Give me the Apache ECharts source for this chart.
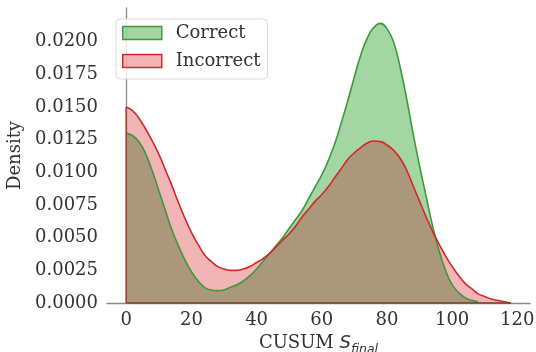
<!DOCTYPE html>
<html>
<head>
<meta charset="utf-8">
<script src="https://cdn.jsdelivr.net/npm/echarts@6/dist/echarts.min.js"></script>
<style>html,body{margin:0;padding:0;background:#fff;}#chart{width:536px;height:352px;}</style>
</head>
<body>
<div id="chart"></div>
<script>
// Grid of x values (CUSUM S_final)
const xs = [0,2,4,6,8,10,12,14,16,18,20,22,24,26,28,30,32,34,36,38,40,42,44,46,48,50,52,54,56,58,60,62,64,66,68,70,72,74,76,78,80,82,84,86,88,90,92,94,96,98,100,102,104,106,108,110,112,114,116,118];
// Density estimates
const correctDensity = [0.0130,0.0128,0.0123,0.0114,0.0101,0.0086,0.0071,0.0056,0.0044,0.0033,0.0024,0.0017,0.0012,0.00099,0.00095,0.0010,0.0012,0.0014,0.0017,0.0021,0.0026,0.0032,0.0038,0.0044,0.0050,0.0057,0.0064,0.0071,0.0080,0.0089,0.0098,0.0109,0.0122,0.0138,0.0155,0.0173,0.0190,0.0203,0.0211,0.0214,0.0210,0.0200,0.0181,0.0157,0.0130,0.0105,0.0082,0.0059,0.0040,0.0025,0.0014,0.0008,0.0004,0.0002,0.0001];
const incorrectDensity = [0.0150,0.0147,0.0141,0.0133,0.0124,0.0114,0.0102,0.0090,0.0077,0.0065,0.0054,0.0045,0.0037,0.0032,0.0028,0.0026,0.0025,0.0025,0.0026,0.0028,0.0031,0.0034,0.0038,0.0043,0.0048,0.0053,0.0059,0.0066,0.0072,0.0078,0.0083,0.0089,0.0096,0.0103,0.0110,0.0115,0.0119,0.01225,0.0124,0.01235,0.0121,0.0117,0.0111,0.0102,0.0090,0.0078,0.0066,0.0055,0.0045,0.0036,0.0028,0.0021,0.0015,0.0011,0.0007,0.0005,0.0003,0.0002,0.0001,0.0000];
const xTicks = [0,20,40,60,80,100,120];
const yTicks = [0,0.0025,0.005,0.0075,0.01,0.0125,0.015,0.0175,0.02];
const seriesNames = ['Correct','Incorrect'];

const greenLine = '#3b9a3b', redLine = '#d62728';
const greenFill = 'rgba(44,160,44,0.43)', redFill = 'rgba(214,39,40,0.34)';
const overlapFill = '#ab977a';

const correctData = correctDensity.map((v,i)=>[xs[i], v]);
const incorrectData = incorrectDensity.map((v,i)=>[xs[i], v]);
const overlapData = incorrectDensity.map((v,i)=>{
  const g = i < correctDensity.length ? correctDensity[i] : 0;
  return [xs[i], Math.min(g, v)];
});

const serif = 'DejaVu Serif';
const SM = 0.5;
const chart = echarts.init(document.getElementById('chart'), null, {renderer:'canvas'});
chart.setOption({
  animation:false,
  backgroundColor:'#fff',
  grid:{left:107, right:6, top:8, bottom:49, containLabel:false, outerBoundsMode:'none'},
  legend:{
    orient:'vertical', left:116, top:19,
    padding:[4,7,8,6],
    itemWidth:39, itemHeight:13, itemGap:8,
    borderColor:'#dcdcdc', borderWidth:1, borderRadius:4,
    backgroundColor:'rgba(255,255,255,0.8)',
    textStyle:{fontFamily:serif, fontSize:18, color:'#333', padding:[0,0,0,9], lineHeight:20},
    data:[
      {name:seriesNames[0], icon:'rect', itemStyle:{color:greenFill, borderColor:greenLine, borderWidth:1.5}},
      {name:seriesNames[1], icon:'rect', itemStyle:{color:redFill, borderColor:redLine, borderWidth:1.5}}
    ]
  },
  xAxis:{
    type:'value', min:-5.9, max:123.9,
    name:'{a|CUSUM }{s|S}{f|final}', nameLocation:'middle', nameGap:23,
    nameTextStyle:{
      rich:{
        a:{fontFamily:serif, fontSize:18, color:'#333', lineHeight:24, verticalAlign:'bottom'},
        s:{fontFamily:'DejaVu Sans', fontStyle:'italic', fontSize:18, color:'#333', lineHeight:24, verticalAlign:'bottom'},
        f:{fontFamily:'DejaVu Sans', fontStyle:'italic', fontSize:12.5, color:'#333', lineHeight:20, verticalAlign:'bottom', padding:[0,0,-4,0]}
      }
    },
    axisLine:{show:true, lineStyle:{color:'#8a8a8a', width:1.3}},
    axisTick:{show:false},
    splitLine:{show:false},
    axisLabel:{customValues:xTicks, fontFamily:serif, fontSize:18, color:'#333', margin:8, formatter:v=>String(v)}
  },
  yAxis:{
    type:'value', min:0, max:0.02258,
    name:'Density', nameLocation:'middle', nameGap:74, nameRotate:90,
    nameTextStyle:{fontFamily:serif, fontSize:18, color:'#333'},
    axisLine:{show:true, lineStyle:{color:'#8a8a8a', width:1.3}},
    axisTick:{show:false},
    splitLine:{show:false},
    axisLabel:{customValues:yTicks, fontFamily:serif, fontSize:18, color:'#333', margin:9, formatter:v=>v.toFixed(4)}
  },
  series:[
    {name:seriesNames[0], type:'line', data:correctData, smooth:SM, symbol:'none', z:1,
     lineStyle:{width:0, color:greenLine}, itemStyle:{color:greenLine}, areaStyle:{color:greenFill, opacity:1}},
    {name:seriesNames[1], type:'line', data:incorrectData, smooth:SM, symbol:'none', z:1,
     lineStyle:{width:0, color:redLine}, itemStyle:{color:redLine}, areaStyle:{color:redFill, opacity:1}},
    {name:'overlap', type:'line', data:overlapData, smooth:SM, symbol:'none', z:2,
     lineStyle:{width:0}, areaStyle:{color:overlapFill, opacity:1}},
    {name:'correctLine', type:'line', data:correctData, smooth:SM, symbol:'none', z:3,
     lineStyle:{width:1.6, color:greenLine}},
    {name:'incorrectLine', type:'line', data:incorrectData, smooth:SM, symbol:'none', z:4,
     lineStyle:{width:1.6, color:redLine}},
    {name:'edges', type:'line', data:[[0,incorrectDensity[0]],[0,0]], symbol:'none', z:5,
     lineStyle:{width:1.6, color:'#b53a30'}},
    {name:'base', type:'line', data:[[0,0],[xs[xs.length-1],0]], symbol:'none', z:5,
     lineStyle:{width:1.6, color:'#6e3d30'}}
  ]
});
</script>
</body>
</html>
